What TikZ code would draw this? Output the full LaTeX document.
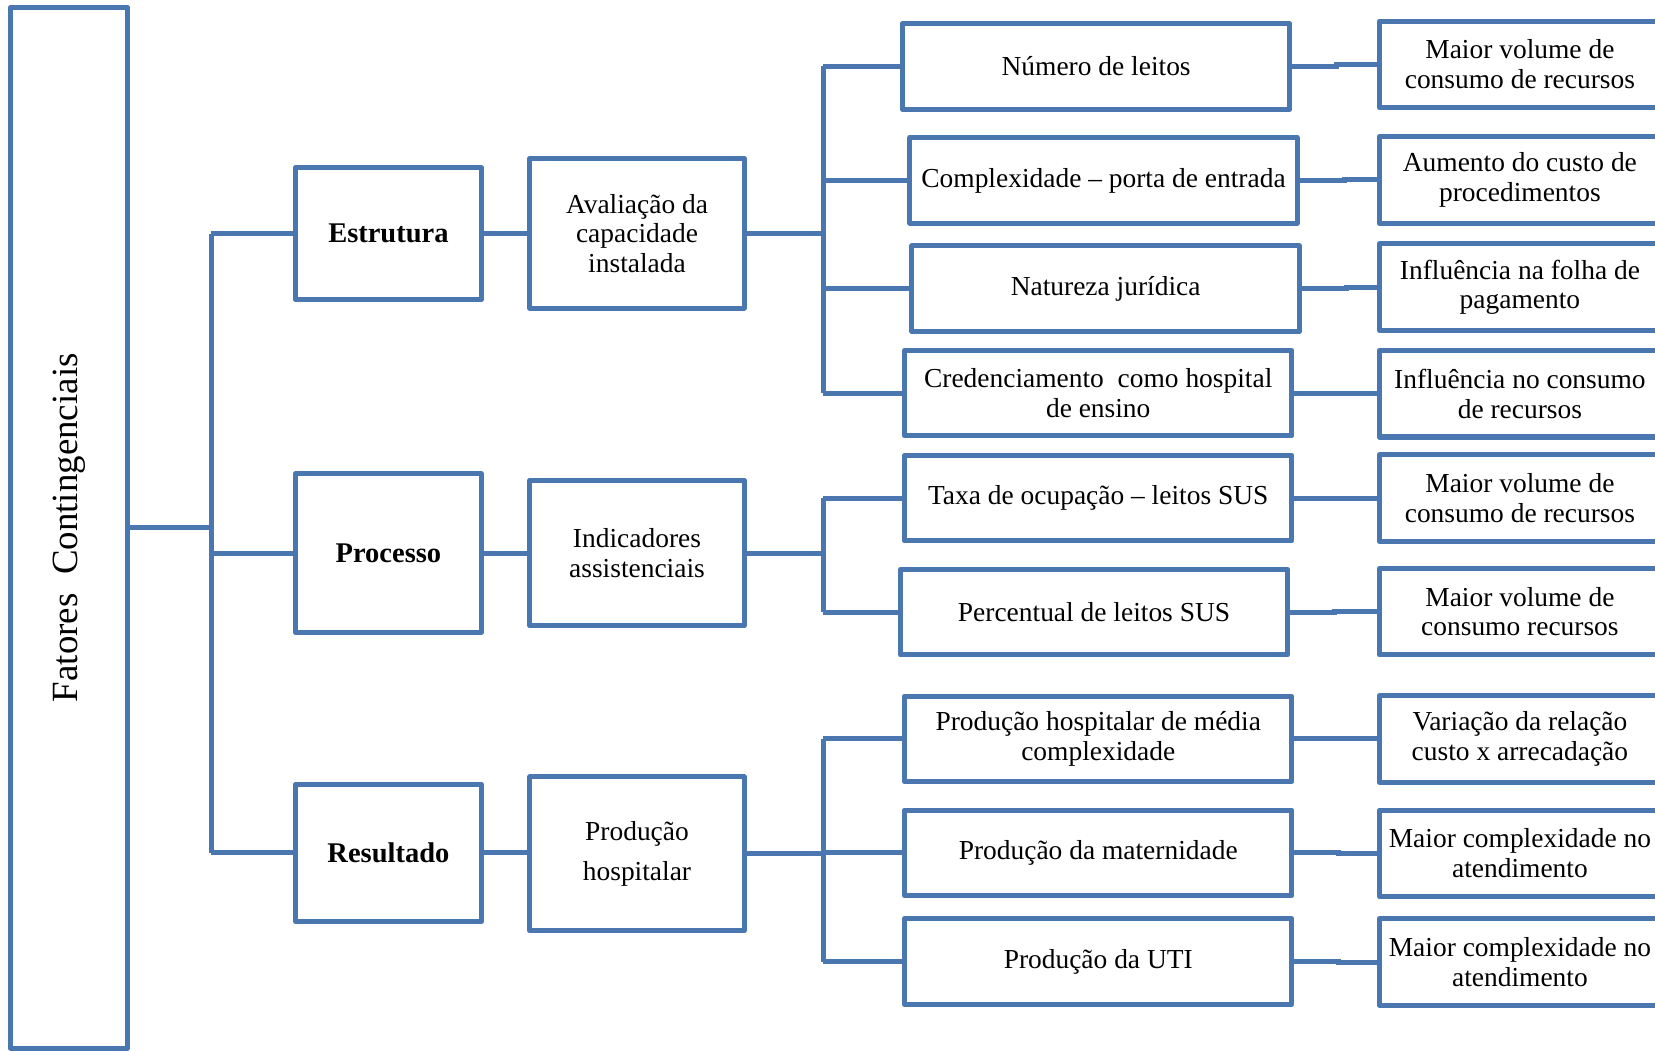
\documentclass[tikz,border=0pt]{standalone}
\usepackage{fontspec}
\setmainfont{Liberation Serif}
\definecolor{blu}{RGB}{74,119,175}
\begin{document}
\begin{tikzpicture}[x=0.5pt,y=-0.5pt,
  link/.style={draw=blu, line width=2.4pt},
  box/.style={draw=blu, line width=2.4pt, fill=white, inner sep=1pt, align=center,
    line join=round, font=\fontsize{13}{14}\selectfont},
  cat/.style={box, minimum width=88pt, font=\fontsize{13.5}{15}\selectfont\bfseries},
  grp/.style={box, minimum width=101.5pt},
  item/.style={box, minimum width=183.5pt, minimum height=40.5pt},
  effect/.style={box, minimum width=133pt, minimum height=41pt}]
\useasboundingbox (0,0) rectangle (1568,995);
\clip (0,0) rectangle (1568,995);

% root
\node[box, rotate=90, minimum width=493pt, minimum height=55.5pt,
  font=\fontsize{17.5}{20}\selectfont] (fc) at (65.5,500) {Fatores\ \ Contingenciais};

% first level
\node[cat, minimum height=62.5pt] (est) at (368,221.5) {Estrutura};
\node[cat, minimum height=75pt]   (pro) at (368,524) {Processo};
\node[cat, minimum height=65pt]   (res) at (368,808) {Resultado};

% second level
\node[grp, minimum height=71pt] (ava) at (603.5,221) {Avaliação da\\capacidade\\instalada};
\node[grp, minimum height=69pt] (ind) at (603.5,524) {Indicadores\\assistenciais};
\node[grp, minimum height=73pt] (prd) at (603.5,809) {Produção\\[5pt]hospitalar};

% third level
\node[item] (m1) at (1038.5,63)  {Número de leitos};
\node[item] (m2) at (1045.5,171) {Complexidade -- porta de entrada};
\node[item] (m3) at (1047.5,273.5) {Natureza jurídica};
\node[item] (m4) at (1040.5,372.5) {Credenciamento\ \ como hospital\\de ensino};
\node[item] (m5) at (1040.5,472) {Taxa de ocupação -- leitos SUS};
\node[item] (m6) at (1036.5,580) {Percentual de leitos SUS};
\node[item] (m7) at (1040.5,700) {Produção hospitalar de média\\complexidade};
\node[item] (m8) at (1040.5,808) {Produção da maternidade};
\node[item] (m9) at (1040.5,911) {Produção da UTI};

% effects
\node[effect] (r1) at (1440,61)    {Maior volume de\\consumo de recursos};
\node[effect] (r2) at (1440,170.5) {Aumento do custo de\\procedimentos};
\node[effect] (r3) at (1440,272)   {Influência na folha de\\pagamento};
\node[effect] (r4) at (1440,373)   {Influência no consumo\\de recursos};
\node[effect] (r5) at (1440,472)   {Maior volume de\\consumo de recursos};
\node[effect] (r6) at (1440,579.5) {Maior volume de\\consumo recursos};
\node[effect] (r7) at (1440,700)   {Variação da relação\\custo x arrecadação};
\node[effect] (r8) at (1440,808.5) {Maior complexidade no\\atendimento};
\node[effect] (r9) at (1440,911.5) {Maior complexidade no\\atendimento};

% trunk positions
\coordinate (ja) at (200,0);
\coordinate (jb) at (780,0);

% root to first level
\draw[link] (fc.south) -- (fc.south -| ja);
\draw[link] (est.west -| ja) -- (res.west -| ja);
\foreach \n in {est,pro,res} \draw[link] (\n.west -| ja) -- (\n.west);

% first to second level
\draw[link] (est.east) -- (est.east -| ava.west);
\draw[link] (pro.east) -- (pro.east -| ind.west);
\draw[link] (res.east) -- (res.east -| prd.west);

% second to third level
\draw[link] (ava.east) -- (ava.east -| jb);
\draw[link] (m1.west -| jb) -- (m4.west -| jb);
\foreach \n in {m1,m2,m3,m4} \draw[link] (\n.west -| jb) -- (\n.west);
\draw[link] (ind.east) -- (ind.east -| jb);
\draw[link] (m5.west -| jb) -- (m6.west -| jb);
\foreach \n in {m5,m6} \draw[link] (\n.west -| jb) -- (\n.west);
\draw[link] (prd.east) -- (prd.east -| jb);
\draw[link] (m7.west -| jb) -- (m9.west -| jb);
\foreach \n in {m7,m8,m9} \draw[link] (\n.west -| jb) -- (\n.west);

% third level to effects
\foreach \a/\b in {m1/r1,m2/r2,m3/r3,m4/r4,m5/r5,m6/r6,m7/r7,m8/r8,m9/r9}
  \draw[link] (\a.east) -- ++(42,0) |- (\b.west);
\end{tikzpicture}
\end{document}
